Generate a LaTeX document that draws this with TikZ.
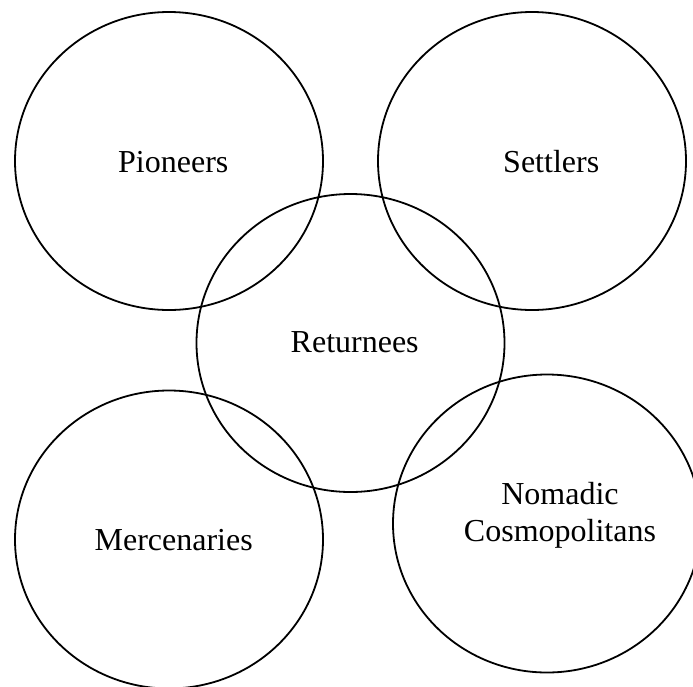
\documentclass[tikz,border=0pt]{standalone}
\usepackage{fontspec}
\setmainfont{Liberation Serif}
\usetikzlibrary{positioning,shapes.geometric}

\begin{document}
\begin{tikzpicture}[
    x=1pt,y=-1pt,
    group/.style={ellipse,draw=black,line width=1.8pt,
      minimum width=308pt,minimum height=298pt,inner sep=0pt,outer sep=0pt},
    tag/.style={font=\fontsize{32}{37}\selectfont,align=center,inner sep=0pt}
  ]
    \useasboundingbox (0,0) rectangle (693,686);
    \clip (0,0) rectangle (693,686);

    % the five groups
    \node[group] (pioneers) at (169,161) {};
    \node[group] (settlers) at (532,161) {};
    \node[group] (returnees) at (350.5,343) {};
    \node[group] (mercenaries) at (169,539.5) {};
    \node[group] (nomadic) at (547,523.5) {};

    % their names
    \node[tag,anchor=base] (pioneerstag) at ([shift={(4.3,11.5)}]pioneers.center) {Pioneers};
    \node[tag,anchor=base] (settlerstag) at ([shift={(19.2,11.5)}]settlers.center) {Settlers};
    \node[tag,anchor=base] (returneestag) at ([shift={(4.2,9.7)}]returnees.center) {Returnees};
    \node[tag,anchor=base] (mercenariestag) at ([shift={(4.7,11.2)}]mercenaries.center) {Mercenaries};
    \node[tag] (nomadictag) at ([shift={(13,-8.5)}]nomadic.center) {Nomadic\\Cosmopolitans};
  \end{tikzpicture}
\end{document}
